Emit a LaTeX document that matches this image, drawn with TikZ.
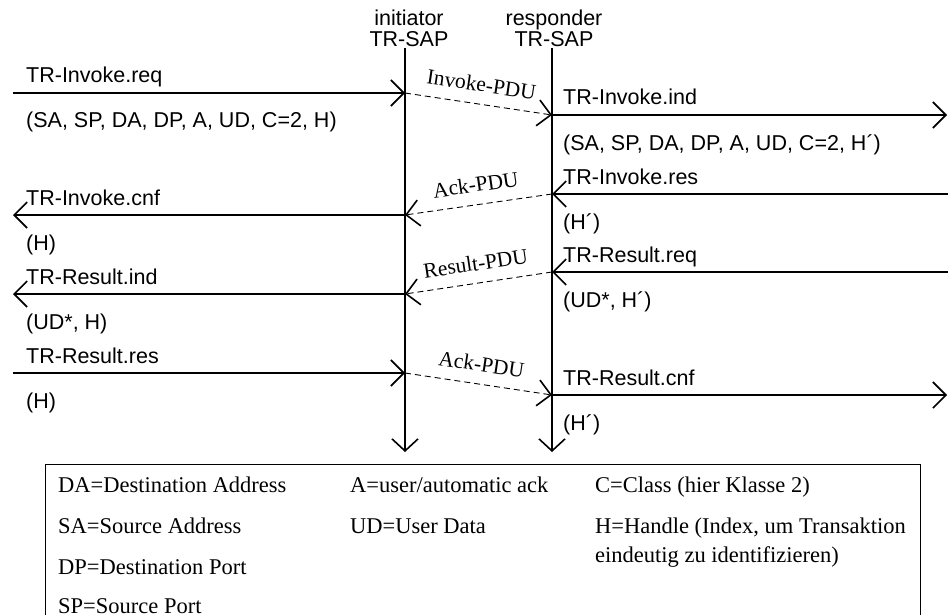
\documentclass[tikz,border=0pt]{standalone}
\usepackage{fontspec}
\setmainfont{Liberation Serif}
\setsansfont{Liberation Sans}
\usetikzlibrary{arrows.meta, positioning}

\begin{document}
\begin{tikzpicture}[x=1pt, y=-1pt,
  lifeline/.style={line width=1.6pt, -{Straight Barb[length=12pt, width=26pt]}},
  msg/.style={line width=1.6pt, -{Straight Barb[length=13pt, width=26pt]}},
  pdu/.style={line width=0.9pt, dash pattern=on 6pt off 4pt, -{Straight Barb[length=13pt, width=26pt, line width=1.6pt]}},
  prim/.style={font=\sffamily\fontsize{21.5}{21.5}\selectfont, inner sep=0pt, anchor=base west},
  hdr/.style={font=\sffamily\fontsize{21.5}{20.5}\selectfont, inner sep=0pt, align=center},
  pdulbl/.style={font=\fontsize{21.5}{21.5}\selectfont, sloped, above=10pt, inner sep=2pt},
  legend/.style={font=\fontsize{22.5}{22.5}\selectfont, inner sep=0pt, anchor=base west}]
\useasboundingbox (0,0) rectangle (948,615);
\clip (0,0) rectangle (948,615);

% service access points
\node[hdr] (inihead) at (409,28.5) {initiator\\TR-SAP};
\node[hdr] (reshead) at (554,28.5) {responder\\TR-SAP};
\coordinate (ini) at (405,48);
\coordinate (iniend) at (405,452);
\coordinate (res) at (552,48);
\coordinate (resend) at (552,452);
\draw[lifeline] (ini) -- (iniend);
\draw[lifeline] (res) -- (resend);

% invoke
\coordinate (a0) at (13,93);
\coordinate (a1) at (405,93);
\coordinate (b1) at (552,115);
\coordinate (b2) at (947,115);
\draw[msg] (a0) -- (a1);
\node[prim] (invreq) at (26,83) {TR-Invoke.req};
\node[prim] (invreqp) at (26,128) {(SA, SP, DA, DP, A, UD, C=2, H)};
\draw[pdu] (a1) -- node[pdulbl] (invpdu) {Invoke-PDU} (b1);
\draw[msg] (b1) -- (b2);
\node[prim] (invind) at (563,105) {TR-Invoke.ind};
\node[prim] (invindp) at (563,150) {(SA, SP, DA, DP, A, UD, C=2, H´)};

% invoke response
\coordinate (c0) at (948,194);
\coordinate (c1) at (552,194);
\coordinate (d1) at (405,215);
\coordinate (d2) at (13,215);
\draw[msg] (c0) -- (c1);
\node[prim] (invres) at (563,184) {TR-Invoke.res};
\node[prim] (invresp) at (563,229) {(H´)};
\draw[pdu] (c1) -- node[pdulbl] (ackpdu) {Ack-PDU} (d1);
\draw[msg] (d1) -- (d2);
\node[prim] (invcnf) at (26,205) {TR-Invoke.cnf};
\node[prim] (invcnfp) at (26,250) {(H)};

% result
\coordinate (e0) at (948,272);
\coordinate (e1) at (552,272);
\coordinate (f1) at (405,294);
\coordinate (f2) at (13,294);
\draw[msg] (e0) -- (e1);
\node[prim] (resreq) at (563,262) {TR-Result.req};
\node[prim] (resreqp) at (563,307) {(UD*, H´)};
\draw[pdu] (e1) -- node[pdulbl] (respdu) {Result-PDU} (f1);
\draw[msg] (f1) -- (f2);
\node[prim] (resind) at (26,284) {TR-Result.ind};
\node[prim] (resindp) at (26,329) {(UD*, H)};

% result response
\coordinate (g0) at (13,373);
\coordinate (g1) at (405,373);
\coordinate (h1) at (552,395);
\coordinate (h2) at (947,395);
\draw[msg] (g0) -- (g1);
\node[prim] (resres) at (26,363) {TR-Result.res};
\node[prim] (resresp) at (26,408) {(H)};
\draw[pdu] (g1) -- node[pdulbl] (ackpdu2) {Ack-PDU} (h1);
\draw[msg] (h1) -- (h2);
\node[prim] (rescnf) at (563,385) {TR-Result.cnf};
\node[prim] (rescnfp) at (563,430) {(H´)};

% legend
\node[draw, line width=0.9pt, anchor=north west, minimum width=875pt, minimum height=180pt] (legendbox) at (45,464) {};
\node[legend] (da) at (58,492) {DA=Destination Address};
\node[legend] (sa) at (58,533) {SA=Source Address};
\node[legend] (dp) at (58,574) {DP=Destination Port};
\node[legend] (sp) at (58,613) {SP=Source Port};
\node[legend] (acka) at (350,492) {A=user/automatic ack};
\node[legend] (ud) at (350,533) {UD=User Data};
\node[legend] (cls) at (595,492) {C=Class (hier Klasse 2)};
\node[legend] (hdl) at (595,533) {H=Handle (Index, um Transaktion};
\node[legend] (hdlb) at (595,562) {eindeutig zu identifizieren)};
\end{tikzpicture}
\end{document}
